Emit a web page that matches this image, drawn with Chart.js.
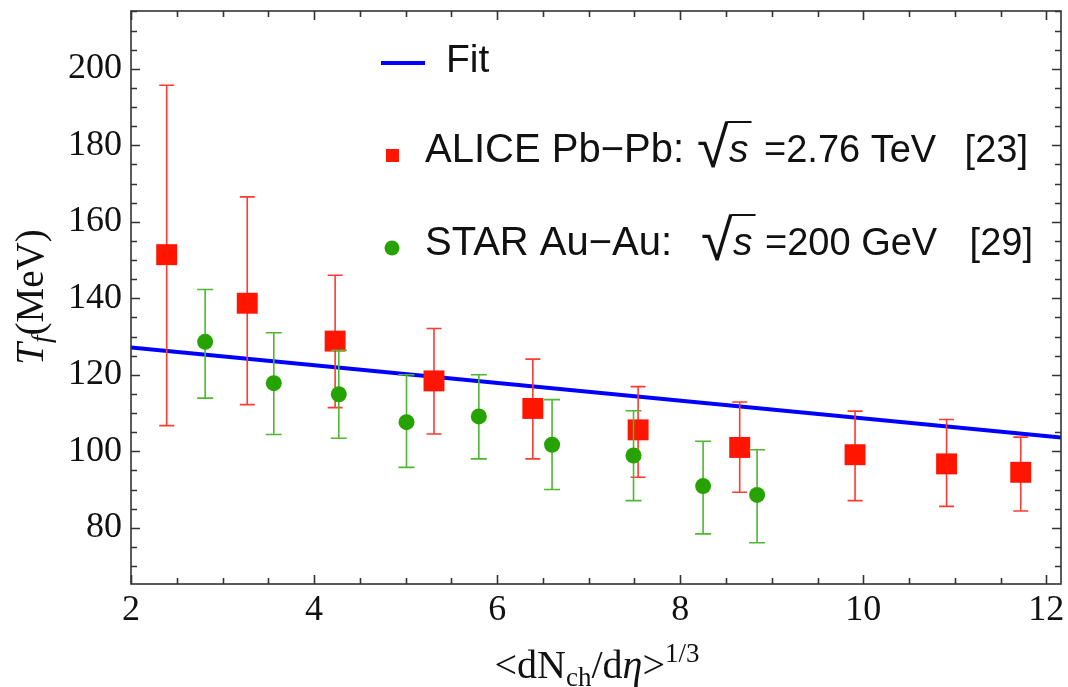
<!DOCTYPE html>
<html>
<head>
<meta charset="utf-8">
<script src="https://cdn.jsdelivr.net/npm/chart.js@4.4.0/dist/chart.umd.min.js"></script>
<style>
  html, body { margin: 0; padding: 0; background: #fff; overflow: hidden; }
  #wrap { width: 1068px; height: 687px; position: relative; }
  canvas { display: block; }
</style>
</head>
<body>
<div id="wrap"><canvas id="chart"></canvas></div>
<script>
// ALICE Pb-Pb, sqrt(s)=2.76 TeV
const aliceX  = [2.39, 3.27, 4.23, 5.31, 6.39, 7.54, 8.65, 9.91, 10.91, 11.72];
const aliceY  = [151.4, 138.7, 128.8, 118.4, 111.2, 105.6, 101.0, 99.1, 96.7, 94.5];
const aliceHi = [195.7, 166.5, 146.0, 132.1, 124.1, 116.9, 112.9, 110.5, 108.3, 103.7];
const aliceLo = [106.7, 112.2, 111.4, 104.5, 98.0, 93.2, 89.3, 87.1, 85.6, 84.4];

// STAR Au-Au, sqrt(s)=200 GeV
const starX  = [2.81, 3.56, 4.27, 5.01, 5.80, 6.60, 7.49, 8.25, 8.84];
const starY  = [128.6, 117.8, 114.9, 107.6, 109.1, 101.7, 98.9, 90.9, 88.6];
const starHi = [142.3, 131.0, 126.4, 120.0, 120.0, 113.5, 110.6, 102.6, 100.4];
const starLo = [113.9, 104.4, 103.4, 95.8, 98.0, 90.0, 87.1, 78.4, 76.1];

// linear fit
const fitX = [2, 12.16];
const fitY = [127.1, 103.6];

const xTicks = [2, 4, 6, 8, 10, 12];
const yTicks = [80, 100, 120, 140, 160, 180, 200];

const xMin = 2, xMax = 12.16, yMin = 65.3, yMax = 215.1;

const RED = '#ff1500', RED_ERR = '#ff3b30';
const GREEN = '#26a300', GREEN_ERR = '#4db830';
const BLUE = '#0000ff';
const FRAME = '#333';
const SERIF = '"Liberation Serif", "DejaVu Serif", serif';
const SANS = '"Liberation Sans", "DejaVu Sans", Arial, sans-serif';

const pts = (xs, ys) => xs.map((x, i) => ({ x: x, y: ys[i] }));

// error bars drawn just before each dataset
const errorBars = {
    id: 'errorBars',
    beforeDatasetDraw(chart, args) {
        const ds = chart.data.datasets[args.index];
        if (!ds.errLo) return;
        const xs = chart.scales.x, ys = chart.scales.y, ctx = chart.ctx;
        ctx.save();
        ctx.strokeStyle = ds.errColor;
        ctx.lineWidth = 1.6;
        ds.data.forEach((p, i) => {
            const px = xs.getPixelForValue(p.x);
            const top = ys.getPixelForValue(ds.errHi[i]);
            const bot = ys.getPixelForValue(ds.errLo[i]);
            ctx.beginPath();
            ctx.moveTo(px, top); ctx.lineTo(px, bot);
            ctx.moveTo(px - ds.cap, top); ctx.lineTo(px + ds.cap, top);
            ctx.moveTo(px - ds.cap, bot); ctx.lineTo(px + ds.cap, bot);
            ctx.stroke();
        });
        ctx.restore();
    }
};

// box frame with inward ticks on all sides, plus x tick labels
const frame = {
    id: 'frame',
    afterDatasetsDraw(chart) {
        const { ctx, chartArea: a, scales: { x, y } } = chart;
        ctx.save();
        ctx.strokeStyle = FRAME;
        ctx.lineWidth = 1.6;
        ctx.strokeRect(a.left, a.top, a.right - a.left, a.bottom - a.top);
        ctx.beginPath();
        for (let v = 2; v <= xMax; v += 0.5) {
            const px = Math.round(x.getPixelForValue(v)) + 0.5;
            const len = (v % 2 === 0) ? 9 : 6;
            ctx.moveTo(px, a.bottom); ctx.lineTo(px, a.bottom - len);
            ctx.moveTo(px, a.top); ctx.lineTo(px, a.top + len);
        }
        for (let v = 70; v <= yMax; v += 5) {
            const py = Math.round(y.getPixelForValue(v)) + 0.5;
            const len = (v % 20 === 0) ? 9 : 6;
            ctx.moveTo(a.left, py); ctx.lineTo(a.left + len, py);
            ctx.moveTo(a.right, py); ctx.lineTo(a.right - len, py);
        }
        ctx.stroke();

        ctx.fillStyle = '#111';
        ctx.font = '36px ' + SERIF;
        ctx.textAlign = 'center';
        ctx.textBaseline = 'alphabetic';
        xTicks.forEach(v => ctx.fillText(String(v), x.getPixelForValue(v), a.bottom + 36));
        ctx.restore();
    }
};

// axis titles and legend
const labels = {
    id: 'labels',
    afterDraw(chart) {
        const ctx = chart.ctx;
        ctx.save();
        ctx.fillStyle = '#111';
        ctx.textBaseline = 'alphabetic';
        ctx.textAlign = 'left';

        // pieces: [text, font, dy]
        function run(parts, cx, cy) {
            let w = 0;
            parts.forEach(p => { ctx.font = p[1]; w += ctx.measureText(p[0]).width; });
            let xx = cx - w / 2;
            parts.forEach(p => {
                ctx.font = p[1];
                ctx.fillText(p[0], xx, cy + p[2]);
                xx += ctx.measureText(p[0]).width;
            });
        }

        // x title
        run([
            ['<dN', '40px ' + SERIF, 0],
            ['ch', '27px ' + SERIF, 8],
            ['/d', '40px ' + SERIF, 0],
            ['\u03b7', 'italic 40px ' + SERIF, 0],
            ['>', '40px ' + SERIF, 0],
            ['1/3', '27px ' + SERIF, -16]
        ], 597, 678);

        // y title
        ctx.save();
        ctx.translate(43, 297);
        ctx.rotate(-Math.PI / 2);
        run([
            ['T', 'italic 39px ' + SERIF, 0],
            ['f', 'italic 27px ' + SERIF, 7],
            ['(MeV)', '39px ' + SERIF, 0]
        ], 0, 0);
        ctx.restore();

        // legend
        ctx.strokeStyle = BLUE;
        ctx.lineWidth = 4;
        ctx.beginPath();
        ctx.moveTo(381, 63); ctx.lineTo(425, 63);
        ctx.stroke();
        ctx.font = '39px ' + SANS;
        ctx.fillText('Fit', 446, 72);

        ctx.fillStyle = RED;
        ctx.fillRect(386, 149, 13, 13);
        ctx.fillStyle = GREEN;
        ctx.beginPath();
        ctx.arc(392, 248, 7.5, 0, Math.PI * 2);
        ctx.fill();

        ctx.fillStyle = '#111';
        function entry(name, rootX, sX, rest, restX, ref, refEnd, base) {
            ctx.font = '40px ' + SANS;
            ctx.fillText(name, 425, base);
            ctx.font = '58px ' + SANS;
            ctx.fillText('\u221a', rootX, base + 5);
            const m = ctx.measureText('\u221a');
            const topY = base + 5 - m.actualBoundingBoxAscent;
            const rEnd = rootX + m.actualBoundingBoxRight;
            ctx.font = 'italic 39px ' + SANS;
            ctx.fillText('s', sX, base);
            const sEnd = sX + ctx.measureText('s').width;
            ctx.strokeStyle = '#111';
            ctx.lineWidth = 2;
            ctx.beginPath();
            ctx.moveTo(rEnd - 1.5, topY + 1); ctx.lineTo(sEnd + 3, topY + 1);
            ctx.stroke();
            ctx.font = '38px ' + SANS;
            ctx.fillText(rest, restX, base);
            ctx.textAlign = 'right';
            ctx.fillText(ref, refEnd, base);
            ctx.textAlign = 'left';
        }
        entry('ALICE Pb\u2212Pb:', 697, 729, '=2.76 TeV', 764, '[23]', 1028, 162);
        entry('STAR Au\u2212Au:', 701, 733, '=200 GeV', 765, '[29]', 1033, 255);

        ctx.restore();
    }
};

const noPad = s => { s.paddingTop = 0; s.paddingBottom = 0; s.paddingLeft = 0; s.paddingRight = 0; };

const chart = new Chart(document.getElementById('chart'), {
    type: 'scatter',
    data: {
        datasets: [{
            label: 'STAR Au-Au',
            data: pts(starX, starY),
            errHi: starHi, errLo: starLo, errColor: GREEN_ERR, cap: 8,
            pointStyle: 'circle',
            pointRadius: 8,
            pointBackgroundColor: GREEN,
            pointBorderWidth: 0,
            order: 1
        }, {
            label: 'ALICE Pb-Pb',
            data: pts(aliceX, aliceY),
            errHi: aliceHi, errLo: aliceLo, errColor: RED_ERR, cap: 7.5,
            pointStyle: 'rect',
            pointRadius: 14.8,
            pointBackgroundColor: RED,
            pointBorderWidth: 0,
            order: 2
        }, {
            label: 'Fit',
            type: 'line',
            data: pts(fitX, fitY),
            borderColor: BLUE,
            borderWidth: 4,
            pointRadius: 0,
            fill: false,
            order: 3
        }]
    },
    options: {
        responsive: true,
        maintainAspectRatio: false,
        animation: false,
        events: [],
        layout: { autoPadding: false, padding: { top: 11, right: 7, left: 0, bottom: 0 } },
        plugins: { legend: { display: false }, tooltip: { enabled: false } },
        scales: {
            x: {
                type: 'linear',
                min: xMin, max: xMax,
                afterBuildTicks: s => { s.ticks = xTicks.map(v => ({ value: v })); },
                afterFit: s => { s.height = 103; noPad(s); },
                grid: { display: false, drawTicks: false },
                border: { display: false },
                ticks: { display: false }
            },
            y: {
                type: 'linear',
                min: yMin, max: yMax,
                afterBuildTicks: s => { s.ticks = yTicks.map(v => ({ value: v })); },
                afterFit: s => { s.width = 131; noPad(s); },
                grid: { display: false, drawTicks: false },
                border: { display: false },
                ticks: {
                    padding: 9,
                    color: '#111',
                    font: { family: '"Liberation Serif", serif', size: 36 }
                }
            }
        }
    },
    plugins: [errorBars, frame, labels]
});
</script>
</body>
</html>
